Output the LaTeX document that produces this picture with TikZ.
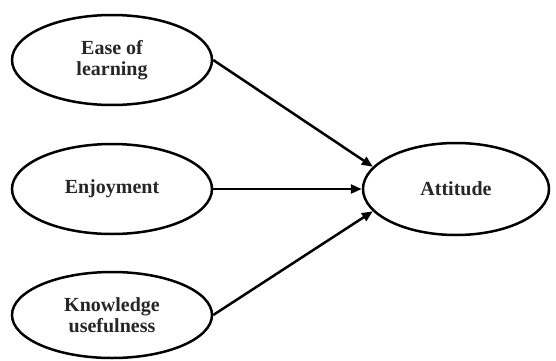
\documentclass[tikz,border=0pt]{standalone}
\usepackage{fontspec}
\setmainfont{Liberation Serif}
\usetikzlibrary{shapes.geometric,arrows.meta}
\tikzset{
  construct/.style={ellipse, draw=black, line width=2.5pt, inner sep=0pt,
    minimum width=200pt, minimum height=90pt, align=center,
    font=\fontsize{20}{21}\selectfont\bfseries, text=black!85},
  link/.style={line width=2.5pt, -{Triangle[length=11pt,width=9pt]}}
}
\begin{document}
\begin{tikzpicture}[x=1pt,y=1pt]
\useasboundingbox (0,0) rectangle (556,360);
\node[construct] (ease) at (112,300) {Ease of\\learning};
\node[construct] (enjoy) at (112,171) {Enjoyment};
\node[construct, minimum height=86pt] (know) at (112,45) {Knowledge\\usefulness};
\node[construct, minimum width=186pt, minimum height=92pt] (att) at (456,171) {Attitude};
\draw[link] (ease.east) -- (att.165);
\draw[link] (enjoy.east) -- (att.west);
\draw[link] (know.east) -- (att.195);
\end{tikzpicture}
\end{document}
